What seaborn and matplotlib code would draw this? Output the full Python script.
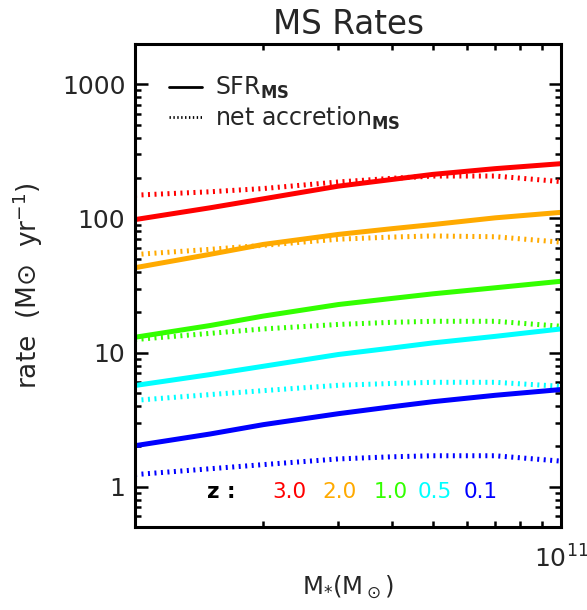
import matplotlib
matplotlib.use('Agg')
import matplotlib.pyplot as plt
import seaborn as sns
import numpy as np
import pandas as pd
from matplotlib.lines import Line2D
from matplotlib.ticker import FixedLocator, FixedFormatter, NullFormatter

sns.set_style('ticks')
plt.rcParams['font.family'] = ['DejaVu Sans']
plt.rcParams['mathtext.fontset'] = 'dejavusans'

# stellar mass grid (Msun)
mass = [1e10, 1.5e10, 2e10, 3e10, 4e10, 5e10, 7e10, 1e11]

redshifts = ['3.0', '2.0', '1.0', '0.5', '0.1']
colors = ['#ff0000', '#ffaa00', '#33ff00', '#00ffff', '#0000ff']

# main sequence SFR (Msun/yr)
sfr_z30 = [98, 120, 140, 174, 195, 213, 235, 256]
sfr_z20 = [42.9, 54, 64, 76, 83.8, 90, 101, 111]
sfr_z10 = [13.0, 15.9, 18.7, 22.8, 25.3, 27.4, 30.4, 34.0]
sfr_z05 = [5.68, 6.85, 7.9, 9.67, 10.8, 11.8, 13.2, 15.0]
sfr_z01 = [2.02, 2.47, 2.9, 3.5, 3.94, 4.3, 4.8, 5.3]

# net accretion rate (Msun/yr)
acc_z30 = [149, 158, 167, 187, 199, 207, 207, 188]
acc_z20 = [53.8, 58.8, 63, 70, 72.6, 74, 73, 66.5]
acc_z10 = [12.5, 13.9, 15.0, 16.2, 16.8, 17.1, 17.1, 15.7]
acc_z05 = [4.4, 4.86, 5.2, 5.7, 5.88, 6.0, 6.0, 5.6]
acc_z01 = [1.23, 1.36, 1.46, 1.61, 1.67, 1.70, 1.70, 1.55]

sfr_all = [sfr_z30, sfr_z20, sfr_z10, sfr_z05, sfr_z01]
acc_all = [acc_z30, acc_z20, acc_z10, acc_z05, acc_z01]

ytick_vals = [1, 10, 100, 1000]
ytick_labels = ['1', '10', '100', '1000']

fig = plt.figure(figsize=(5.87, 6.10), dpi=100)
ax = fig.add_axes([0.230, 0.136, 0.726, 0.792])

dot_style = (0, (0.4, 0.9))
for z, c, sfr, acc in zip(redshifts, colors, sfr_all, acc_all):
    df = pd.DataFrame({'mass': mass, 'sfr': sfr, 'acc': acc})
    sns.lineplot(data=df, x='mass', y='sfr', ax=ax, color=c, lw=3.6,
                 solid_capstyle='butt')
    sns.lineplot(data=df, x='mass', y='acc', ax=ax, color=c, lw=3.6,
                 linestyle=dot_style, dash_capstyle='butt')

ax.set_xscale('log')
ax.set_yscale('log')
ax.set_xlim(1e10, 1e11)
ax.set_ylim(0.5, 2000)

# ticks, IDL-like: inward on all sides
ax.yaxis.set_major_locator(FixedLocator(ytick_vals))
ax.yaxis.set_major_formatter(FixedFormatter(ytick_labels))
ax.xaxis.set_major_locator(FixedLocator([1e11]))
ax.xaxis.set_major_formatter(FixedFormatter([r'$10^{11}$']))
ax.xaxis.set_minor_formatter(NullFormatter())
ax.yaxis.set_minor_formatter(NullFormatter())
ax.tick_params(which='both', direction='in', top=True, right=True, width=1.8,
               labelsize=18, color='black')
ax.tick_params(which='major', length=9)
ax.tick_params(which='minor', length=4.5)
ax.tick_params(axis='y', which='major', pad=7)
ax.tick_params(axis='x', which='major', pad=13)
for sp in ax.spines.values():
    sp.set_linewidth(2.2)
    sp.set_color('black')

ax.set_title('MS Rates', fontsize=23.5, pad=7)
ax.set_xlabel(r'M$_{*}$(M$_\odot$)', fontsize=17.5, labelpad=1)
ax.set_ylabel(r'rate  (M$\odot$  yr$^{-1}$)', fontsize=19, labelpad=12)

# legend
handles = [Line2D([], [], color='black', lw=2.0),
           Line2D([], [], color='black', lw=2.0, linestyle=(0, (0.5, 0.9)))]
labels = [r'SFR$_{\mathbf{MS}}$', r'net accretion$_{\mathbf{MS}}$']
ax.legend(handles, labels, loc='upper left', frameon=False, fontsize=17,
          handlelength=1.4, handletextpad=0.55, labelspacing=0.15,
          borderaxespad=0.3, bbox_to_anchor=(0.042, 0.97))

# redshift key
ax.text(0.168, 0.072, 'z :', transform=ax.transAxes, fontsize=15.5,
        fontweight='bold', color='black', va='center')
z_x = [0.322, 0.439, 0.559, 0.662, 0.770]
for zx, z, c in zip(z_x, redshifts, colors):
    ax.text(zx, 0.072, z, transform=ax.transAxes, fontsize=15.5, color=c,
            va='center')

fig.savefig('out.png', dpi=100)
